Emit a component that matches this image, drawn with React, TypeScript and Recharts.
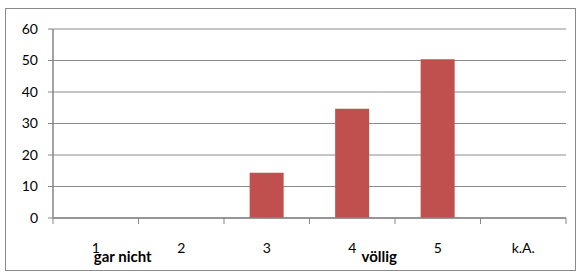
import React from 'react';
import { BarChart, Bar, XAxis, YAxis, CartesianGrid } from 'recharts';

const categories = ['1', '2', '3', '4', '5', 'k.A.'];
const values = [0, 0, 14.4, 34.7, 50.4, 0];
const subLabels = ['gar nicht', '', '', 'völlig', '', ''];
const yTicks = [0, 10, 20, 30, 40, 50, 60];

const FONT = 'Lato, "Open Sans", sans-serif';
const AXIS_GREY = '#868686';

const data = categories.map((c, i) => ({ cat: c, value: values[i], sub: subLabels[i] }));

const BAND = (566 - 53) / categories.length;

// Excel-style ticks between the categories, plus a second (bold) label line
const CategoryTick = (props: any) => {
    const { x, y, payload, index } = props;
    const sub = subLabels[index];
    const last = index === categories.length - 1;
    return (
        <g>
            <line x1={x - BAND / 2} y1={y} x2={x - BAND / 2} y2={y + 6} stroke={AXIS_GREY} />
            {last && <line x1={x + BAND / 2} y1={y} x2={x + BAND / 2} y2={y + 6} stroke={AXIS_GREY} />}
            <text x={x} y={y + 35} textAnchor="middle" fontSize={14} fontFamily={FONT} fill="#000">
                {payload.value}
            </text>
            {sub && (
                <text x={x + 27} y={y + 44} textAnchor="middle" fontSize={15} fontWeight="bold" fontFamily={FONT} fill="#000">
                    {sub}
                </text>
            )}
        </g>
    );
};

export default function App() {
    return (
        <div style={{ position: 'absolute', left: 0, top: 0, width: 583, height: 280, background: '#fff' }}>
            <div
                style={{
                    position: 'absolute',
                    left: 5,
                    top: 8,
                    width: 569,
                    height: 261,
                    border: '1px solid #8a8a8a',
                }}
            />
            <div style={{ position: 'absolute', left: 0, top: 0 }}>
                <BarChart
                    width={583}
                    height={280}
                    data={data}
                    margin={{ top: 29, right: 17, bottom: 0, left: 0 }}
                    barCategoryGap="30%"
                >
                    <CartesianGrid vertical={false} stroke="#8c8c8c" strokeWidth={1} />
                    <XAxis
                        dataKey="cat"
                        interval={0}
                        tickLine={false}
                        tickSize={0}
                        tickMargin={0}
                        axisLine={{ stroke: AXIS_GREY, strokeWidth: 1.5 }}
                        tick={<CategoryTick />}
                        height={62}
                    />
                    <YAxis
                        domain={[0, 60]}
                        ticks={yTicks}
                        width={53}
                        tickSize={5}
                        tickMargin={10}
                        axisLine={{ stroke: AXIS_GREY, strokeWidth: 1.5 }}
                        tickLine={{ stroke: AXIS_GREY }}
                        tick={{ fill: '#000', fontSize: 14, fontFamily: FONT }}
                    />
                    <Bar dataKey="value" fill="#C0504D" isAnimationActive={false} />
                </BarChart>
            </div>
        </div>
    );
}
